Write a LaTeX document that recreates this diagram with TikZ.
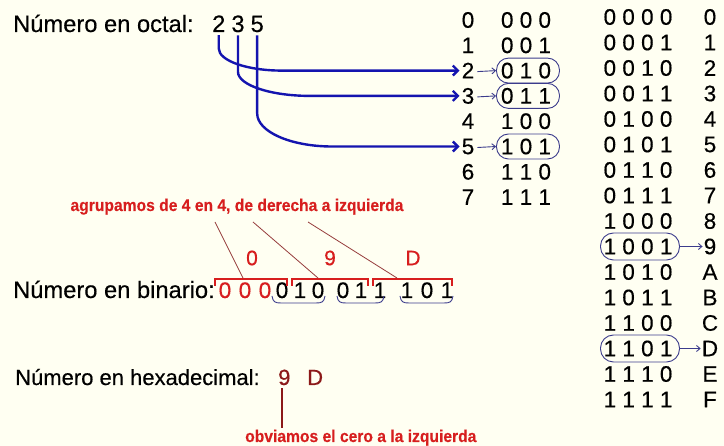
\documentclass[tikz,border=0pt]{standalone}
\usepackage{fontspec}
\setmainfont{Liberation Sans}[FakeBold=0.35]
\usetikzlibrary{arrows.meta,calc}
\definecolor{bg}{RGB}{255,255,242}
\definecolor{arrblue}{RGB}{20,20,175}
\definecolor{navy}{RGB}{60,60,140}
\definecolor{myred}{RGB}{215,30,30}
\definecolor{darkred}{RGB}{140,25,25}
\definecolor{ptr}{RGB}{150,60,60}
\newcommand\myubrace[2]{\draw[ubr] (#1,296) .. controls (#1+1,302) and (#1+3,303) .. (#1+9,303) -- (#2-9,303) .. controls (#2-3,303) and (#2-1,302) .. (#2,296);}
\begin{document}
\begin{tikzpicture}[x=1pt,y=-1pt,
  lab/.style={inner sep=0pt,anchor=base west,font=\fontsize{23.7}{23.7}\selectfont},
  dig/.style={inner sep=0pt,font=\fontsize{22.5}{22.5}\selectfont},
  bitbox/.style={draw=navy,line width=0.9pt,minimum height=25pt,rounded corners=12pt,inner sep=0pt},
  bigarr/.style={draw=arrblue,line width=2.4pt,-{Straight Barb[length=5pt,width=10pt]},shorten >=2pt},
  smallarr/.style={draw=navy,line width=0.9pt,-{Straight Barb[length=3.5pt,width=6pt]}},
  redtxt/.style={inner sep=0pt,text=myred,font=\bfseries\fontsize{17}{17}\selectfont},
  grp/.style={inner sep=0pt,text=myred,font=\fontsize{21}{21}\selectfont},
  brk/.style={draw=myred,line width=2.6pt},
  ptrline/.style={draw=ptr,line width=0.8pt},
  ubr/.style={draw=navy,line width=0.9pt}]
\fill[bg] (0,0) rectangle (724,446);
\useasboundingbox (0,0) rectangle (724,446);

% octal label and digits
\node[lab] (octlab) at (13,32) {Número en octal:};
\node[lab] (d2) at (212,32) {2};
\node[lab] (d3) at (231.2,32) {3};
\node[lab] (d5) at (250.4,32) {5};

% octal table
\foreach \i/\b in {0/0 0 0,1/0 0 1,2/0 1 0,3/0 1 1,4/1 0 0,5/1 0 1,6/1 1 0,7/1 1 1}{
  \node[dig] (o\i) at (468,{20+25.3*\i}) {\i};
  \node[dig] (b\i) at (526,{20+25.3*\i}) {\b};
}
\foreach \i in {2,3,5}{
  \node[bitbox,minimum width=63pt] (k\i) at ($(b\i.center)+(2,0)$) {};
  \draw[smallarr] ($(o\i.east)+(3,1)$) -- (k\i.west);
}

% big blue arrows
\coordinate (c2) at (d2.south |- o2.west);
\coordinate (c3) at (d3.south |- o3.west);
\coordinate (c5) at (d5.south |- o5.west);
\draw[bigarr] ($(d2.south)+(0,3)$) -- ($(c2)+(0,-22)$) .. controls ($(c2)+(0,-10)$) and ($(c2)+(28,0)$) .. ($(c2)+(63,0)$) -- (o2.west);
\draw[bigarr] ($(d3.south)+(0,3)$) -- ($(c3)+(0,-24)$) .. controls ($(c3)+(0,-11)$) and ($(c3)+(32,0)$) .. ($(c3)+(72,0)$) -- (o3.west);
\draw[bigarr] ($(d5.south)+(0,3)$) -- ($(c5)+(0,-33)$) .. controls ($(c5)+(0,-15)$) and ($(c5)+(33,0)$) .. ($(c5)+(75,0)$) -- (o5.west);

% right table
\foreach \i/\b/\h in {0/0 0 0 0/0,1/0 0 0 1/1,2/0 0 1 0/2,3/0 0 1 1/3,4/0 1 0 0/4,5/0 1 0 1/5,6/0 1 1 0/6,7/0 1 1 1/7,8/1 0 0 0/8,9/1 0 0 1/9,10/1 0 1 0/A,11/1 0 1 1/B,12/1 1 0 0/C,13/1 1 0 1/D,14/1 1 1 0/E,15/1 1 1 1/F}{
  \node[dig] (r\i) at (638,{17+25.5*\i}) {\b};
  \node[dig] (h\i) at (710,{17+25.5*\i}) {\h};
}
\foreach \i in {9,13}{
  \node[bitbox,minimum width=79pt,minimum height=27pt,rounded corners=13pt] (q\i) at ($(r\i.center)+(2,0)$) {};
  \draw[smallarr] (q\i.east) -- ($(h\i.west)+(-1,0)$);
}

% grouping text
\node[redtxt,anchor=base] (agr) at (237,211) {\scalebox{0.92}[1]{agrupamos de 4 en 4, de derecha a izquierda}};

% binary row
\node[lab] (binlab) at (13,298) {Número en binario:};
\foreach \x/\c/\d [count=\n] in {225/myred/0,245/myred/0,265/myred/0,282/black/0,300/black/1,318/black/0,343/black/0,361/black/1,380/black/1,407/black/1,427/black/0,447/black/1}{
  \node[dig,anchor=base,text=\c] (bb\n) at (\x,298) {\d};
}

% brackets with group labels
\draw[brk] (215,286) -- (215,279) -- (287,279) -- (287,286);
\draw[brk] (292,286) -- (292,279) -- (368,279) -- (368,286);
\draw[brk] (373,286) -- (373,279) -- (452,279) -- (452,286);
\node[grp] (g0) at (252,258) {0};
\node[grp] (g9) at (330,258) {9};
\node[grp] (gD) at (413,258) {D};

% pointer lines
\coordinate (p1s) at (215,222); \coordinate (p1e) at (243,278);
\coordinate (p2s) at (253,222); \coordinate (p2e) at (318,278);
\coordinate (p3s) at (308,222); \coordinate (p3e) at (397,278);
\draw[ptrline] (p1s) -- (p1e);
\draw[ptrline] (p2s) -- (p2e);
\draw[ptrline] (p3s) -- (p3e);

% underbraces
\myubrace{272}{325}
\myubrace{337}{384}
\myubrace{400}{453}

% hexadecimal
\node[lab,font=\fontsize{22}{22}\selectfont] (hexlab) at (15,385) {Número en hexadecimal:};
\node[lab,font=\fontsize{22}{22}\selectfont,text=darkred] (n9) at (278,385) {9};
\node[lab,font=\fontsize{22}{22}\selectfont,text=darkred] (nD) at (307,385) {D};
\node[redtxt,anchor=base west] (obv) at (245,442) {\scalebox{0.92}[1]{obviamos el cero a la izquierda}};
\coordinate (lend) at (282,428);
\draw[draw=darkred,line width=1.1pt] (n9.south -| lend) ++(0,3) -- (lend);
\end{tikzpicture}
\end{document}
